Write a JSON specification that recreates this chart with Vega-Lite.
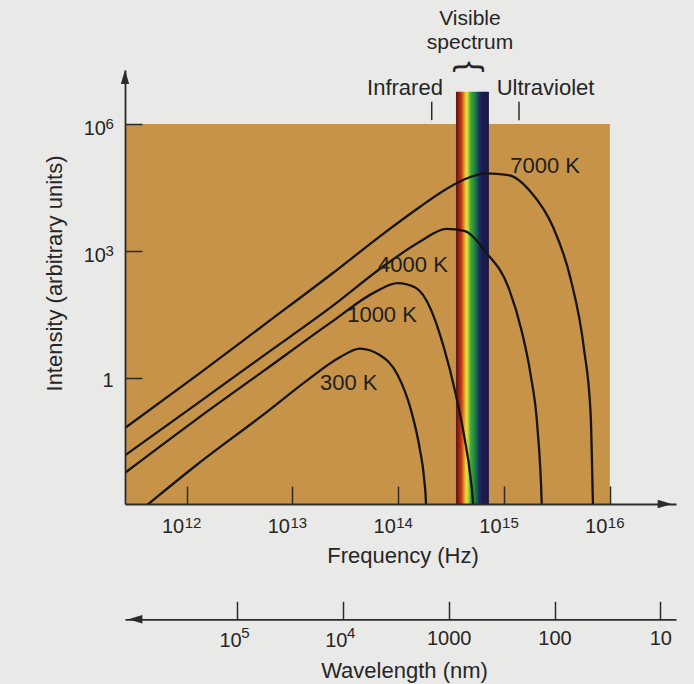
{
  "$schema": "https://vega.github.io/schema/vega-lite/v6.json",
  "width": 551,
  "height": 434,
  "autosize": {"type": "none"},
  "padding": {"left": 125, "top": 70, "right": 18, "bottom": 180},
  "background": "#e9e9e7",
  "config": {"view": {"stroke": null}, "text": {"font": "Liberation Sans", "color": "#262626"}, "axis": {"grid": false}},
  "datasets": {
    "curves": [
      {"T": "7000 K", "f": 2.61e11, "I": 0.0646},
      {"T": "7000 K", "f": 1.274e12, "I": 1.178},
      {"T": "7000 K", "f": 5.42e12, "I": 18.1},
      {"T": "7000 K", "f": 2.31e13, "I": 279},
      {"T": "7000 K", "f": 7.36e13, "I": 2673},
      {"T": "7000 K", "f": 1.596e14, "I": 11090},
      {"T": "7000 K", "f": 2.588e14, "I": 25590},
      {"T": "7000 K", "f": 4.19e14, "I": 49770},
      {"T": "7000 K", "f": 6.79e14, "I": 69340},
      {"T": "7000 K", "f": 1.102e15, "I": 62950},
      {"T": "7000 K", "f": 1.782e15, "I": 25590},
      {"T": "7000 K", "f": 2.89e15, "I": 3811},
      {"T": "7000 K", "f": 4.26e15, "I": 219},
      {"T": "7000 K", "f": 5.69e15, "I": 4.9},
      {"T": "7000 K", "f": 6.58e15, "I": 0.1387},
      {"T": "7000 K", "f": 6.92e15, "I": 0.00102},
      {"T": "7000 K", "f": 7.0e15, "I": 0.000316},
      {"T": "4000 K", "f": 2.61e11, "I": 0.01449},
      {"T": "4000 K", "f": 1.274e12, "I": 0.25},
      {"T": "4000 K", "f": 5.42e12, "I": 3.436},
      {"T": "4000 K", "f": 2.31e13, "I": 46.9},
      {"T": "4000 K", "f": 7.36e13, "I": 448.7},
      {"T": "4000 K", "f": 1.596e14, "I": 1660},
      {"T": "4000 K", "f": 2.851e14, "I": 3373},
      {"T": "4000 K", "f": 4.19e14, "I": 3013},
      {"T": "4000 K", "f": 6.79e14, "I": 916},
      {"T": "4000 K", "f": 1.102e15, "I": 136.5},
      {"T": "4000 K", "f": 1.469e15, "I": 12.65},
      {"T": "4000 K", "f": 1.782e15, "I": 1.178},
      {"T": "4000 K", "f": 2.065e15, "I": 0.0679},
      {"T": "4000 K", "f": 2.27e15, "I": 0.00102},
      {"T": "4000 K", "f": 2.3e15, "I": 0.000316},
      {"T": "1000 K", "f": 2.61e11, "I": 0.00557},
      {"T": "1000 K", "f": 1.274e12, "I": 0.109},
      {"T": "1000 K", "f": 5.42e12, "I": 1.489},
      {"T": "1000 K", "f": 2.31e13, "I": 20.42},
      {"T": "1000 K", "f": 6.08e13, "I": 107.9},
      {"T": "1000 K", "f": 9.84e13, "I": 173.4},
      {"T": "1000 K", "f": 1.449e14, "I": 136.5},
      {"T": "1000 K", "f": 2.032e14, "I": 41.5},
      {"T": "1000 K", "f": 2.716e14, "I": 4.9},
      {"T": "1000 K", "f": 3.459e14, "I": 0.453},
      {"T": "1000 K", "f": 4.19e14, "I": 0.0423},
      {"T": "1000 K", "f": 4.84e14, "I": 0.00391},
      {"T": "1000 K", "f": 5.08e14, "I": 0.00102},
      {"T": "1000 K", "f": 5.15e14, "I": 0.000316},
      {"T": "300 K", "f": 3.55e11, "I": 0.000676},
      {"T": "300 K", "f": 4.34e11, "I": 0.00102},
      {"T": "300 K", "f": 1.274e12, "I": 0.00902},
      {"T": "300 K", "f": 5.42e12, "I": 0.1387},
      {"T": "300 K", "f": 1.426e13, "I": 0.927},
      {"T": "300 K", "f": 2.805e13, "I": 3.041},
      {"T": "300 K", "f": 4.325e13, "I": 4.9},
      {"T": "300 K", "f": 6.68e13, "I": 3.436},
      {"T": "300 K", "f": 9.84e13, "I": 1.178},
      {"T": "300 K", "f": 1.315e14, "I": 0.1754},
      {"T": "300 K", "f": 1.596e14, "I": 0.02065},
      {"T": "300 K", "f": 1.758e14, "I": 0.00391},
      {"T": "300 K", "f": 1.828e14, "I": 0.00102},
      {"T": "300 K", "f": 1.85e14, "I": 0.000316}
    ]
  },
  "resolve": {"scale": {"x": "independent", "y": "shared"}, "axis": {"x": "independent", "y": "shared"}},
  "layer": [
    {
      "encoding": {
        "x": {
          "field": "f", "type": "quantitative",
          "scale": {"type": "log", "domain": [2.61e11, 4.22e16], "nice": false},
          "axis": {
            "orient": "bottom", "zindex": 1,
            "values": [1e12, 1e13, 1e14, 1e15, 1e16],
            "labels": false,
            "tickSize": -18, "tickWidth": 1.5, "tickColor": "#2b2b2b",
            "domainColor": "#2b2b2b", "domainWidth": 1.8,
            "title": "Frequency (Hz)", "titleFont": "Liberation Sans", "titleFontSize": 22,
            "titleFontWeight": "normal", "titleColor": "#262626",
            "titleX": 277.5, "titleY": 51.6, "titleBaseline": "middle", "titleAlign": "center"
          }
        },
        "y": {
          "field": "I", "type": "quantitative",
          "scale": {"type": "log", "domain": [0.001016, 19550000], "nice": false},
          "axis": {
            "orient": "left", "zindex": 1,
            "values": [1, 1000, 1000000],
            "labels": false,
            "tickSize": -17, "tickWidth": 1.5, "tickColor": "#2b2b2b",
            "domainColor": "#2b2b2b", "domainWidth": 1.8,
            "title": "Intensity (arbitrary units)", "titleFont": "Liberation Sans", "titleFontSize": 22,
            "titleFontWeight": "normal", "titleColor": "#262626",
            "titleX": -71, "titleY": 203, "titleBaseline": "middle", "titleAlign": "center", "titleAngle": -90
          }
        }
      },
      "layer": [
        {
          "data": {"values": [{"f": 2.61e11, "f2": 1e16, "I": 0.001016, "I2": 1028000}]},
          "mark": {"type": "rect", "color": "#c69349"},
          "encoding": {"x2": {"field": "f2"}, "y2": {"field": "I2"}}
        },
        {
          "data": {"values": [{"f": 3.51e14, "f2": 7.19e14, "I": 0.001016, "I2": 5980000}]},
          "mark": {
            "type": "rect",
            "fill": {
              "gradient": "linear", "x1": 0, "y1": 0, "x2": 1, "y2": 0,
              "stops": [
                {"offset": 0, "color": "#5a1610"},
                {"offset": 0.1, "color": "#9a2416"},
                {"offset": 0.18, "color": "#cc4418"},
                {"offset": 0.25, "color": "#e49a26"},
                {"offset": 0.31, "color": "#eedc3e"},
                {"offset": 0.37, "color": "#b4d63e"},
                {"offset": 0.44, "color": "#4aa83a"},
                {"offset": 0.56, "color": "#1f8a3c"},
                {"offset": 0.64, "color": "#1c5a52"},
                {"offset": 0.71, "color": "#1f2c62"},
                {"offset": 0.8, "color": "#1c1a4e"},
                {"offset": 1, "color": "#1a1842"}
              ]
            }
          },
          "encoding": {"x2": {"field": "f2"}, "y2": {"field": "I2"}}
        },
        {
          "data": {"values": [{"f": 2.07e14, "I": 3470000, "I2": 1265000}, {"f": 1.384e15, "I": 3470000, "I2": 1265000}]},
          "mark": {"type": "rule", "color": "#2b2b2b", "strokeWidth": 1.5},
          "encoding": {"y2": {"field": "I2"}}
        },
        {
          "data": {"name": "curves"},
          "mark": {"type": "line", "color": "#151515", "strokeWidth": 2.3, "interpolate": "monotone", "clip": true},
          "encoding": {"detail": {"field": "T", "type": "nominal"}}
        },
        {
          "data": {"values": [
            {"f": 2.44e15, "I": 106000, "label": "7000 K"},
            {"f": 1.377e14, "I": 469, "label": "4000 K"},
            {"f": 7.02e13, "I": 31.3, "label": "1000 K"},
            {"f": 3.40e13, "I": 0.766, "label": "300 K"}
          ]},
          "mark": {"type": "text", "fontSize": 22, "align": "center", "baseline": "middle", "font": "Liberation Sans", "color": "#1e1e1e"},
          "encoding": {"text": {"field": "label"}}
        },
        {
          "data": {"values": [{"f": 2.64e14, "I": 5000000, "label": "Infrared"}]},
          "mark": {"type": "text", "fontSize": 22, "align": "right", "baseline": "alphabetic", "font": "Liberation Sans"},
          "encoding": {"text": {"field": "label"}}
        },
        {
          "data": {"values": [{"f": 8.51e14, "I": 5000000, "label": "Ultraviolet"}]},
          "mark": {"type": "text", "fontSize": 22, "align": "left", "baseline": "alphabetic", "font": "Liberation Sans"},
          "encoding": {"text": {"field": "label"}}
        },
        {
          "data": {"values": [
            {"f": 4.76e14, "I": 222000000, "label": "Visible"},
            {"f": 4.76e14, "I": 61500000, "label": "spectrum"}
          ]},
          "mark": {"type": "text", "fontSize": 21, "align": "center", "baseline": "alphabetic", "font": "Liberation Sans"},
          "encoding": {"text": {"field": "label"}}
        },
        {
          "data": {"values": [{"f": 4.76e14, "I": 23100000, "label": "{"}]},
          "mark": {"type": "text", "fontSize": 34, "align": "center", "baseline": "middle", "angle": 90, "font": "Liberation Sans"},
          "encoding": {"text": {"field": "label"}}
        },
        {
          "data": {"values": [
            {"f": 1e12, "I": 0.001016, "t": "10"},
            {"f": 1e13, "I": 0.001016, "t": "10"},
            {"f": 1e14, "I": 0.001016, "t": "10"},
            {"f": 1e15, "I": 0.001016, "t": "10"},
            {"f": 1e16, "I": 0.001016, "t": "10"}
          ]},
          "mark": {"type": "text", "fontSize": 20, "align": "right", "baseline": "alphabetic", "dx": -2.5, "dy": 29.3, "font": "Liberation Sans"},
          "encoding": {"text": {"field": "t"}}
        },
        {
          "data": {"values": [
            {"f": 1e12, "I": 0.001016, "t": "12"},
            {"f": 1e13, "I": 0.001016, "t": "13"},
            {"f": 1e14, "I": 0.001016, "t": "14"},
            {"f": 1e15, "I": 0.001016, "t": "15"},
            {"f": 1e16, "I": 0.001016, "t": "16"}
          ]},
          "mark": {"type": "text", "fontSize": 15, "align": "left", "baseline": "alphabetic", "dx": -2, "dy": 23.5, "font": "Liberation Sans"},
          "encoding": {"text": {"field": "t"}}
        },
        {
          "data": {"values": [
            {"f": 2.61e11, "I": 1000000, "t": "10"},
            {"f": 2.61e11, "I": 1000, "t": "10"}
          ]},
          "mark": {"type": "text", "fontSize": 20, "align": "right", "baseline": "alphabetic", "dx": -19, "dy": 11, "font": "Liberation Sans"},
          "encoding": {"text": {"field": "t"}}
        },
        {
          "data": {"values": [{"f": 2.61e11, "I": 1, "t": "1"}]},
          "mark": {"type": "text", "fontSize": 20, "align": "right", "baseline": "alphabetic", "dx": -11.5, "dy": 9.5, "font": "Liberation Sans"},
          "encoding": {"text": {"field": "t"}}
        },
        {
          "data": {"values": [
            {"f": 2.61e11, "I": 1000000, "t": "6"},
            {"f": 2.61e11, "I": 1000, "t": "3"}
          ]},
          "mark": {"type": "text", "fontSize": 15, "align": "left", "baseline": "alphabetic", "dx": -19.5, "dy": 4.5, "font": "Liberation Sans"},
          "encoding": {"text": {"field": "t"}}
        },
        {
          "data": {"values": [{"f": 2.61e11, "I": 13360000}]},
          "mark": {"type": "point", "shape": "M-0.6,1L0,-1L0.6,1Z", "filled": true, "color": "#2b2b2b", "size": 196, "opacity": 1}
        },
        {
          "data": {"values": [{"f": 3.30e16, "I": 0.001016}]},
          "mark": {"type": "point", "shape": "M-1,-0.6L1,0L-1,0.6Z", "filled": true, "color": "#2b2b2b", "size": 196, "opacity": 1}
        }
      ]
    },
    {
      "encoding": {
        "x": {
          "field": "wl", "type": "quantitative",
          "scale": {"type": "log", "domain": [7.11, 1149000], "reverse": true, "nice": false},
          "axis": {
            "orient": "bottom", "offset": 115.3, "zindex": 1,
            "values": [100000, 10000, 1000, 100, 10],
            "labels": false,
            "tickSize": -18, "tickWidth": 1.5, "tickColor": "#2b2b2b",
            "domainColor": "#2b2b2b", "domainWidth": 1.8,
            "title": "Wavelength (nm)", "titleFont": "Liberation Sans", "titleFontSize": 22,
            "titleFontWeight": "normal", "titleColor": "#262626",
            "titleX": 279, "titleY": 50.7, "titleBaseline": "middle", "titleAlign": "center"
          }
        },
        "y": {
          "field": "I", "type": "quantitative",
          "scale": {"type": "log", "domain": [0.001016, 19550000], "nice": false},
          "axis": {
            "orient": "left", "zindex": 1,
            "values": [1, 1000, 1000000],
            "labels": false,
            "tickSize": -17, "tickWidth": 1.5, "tickColor": "#2b2b2b",
            "domainColor": "#2b2b2b", "domainWidth": 1.8,
            "title": "Intensity (arbitrary units)", "titleFont": "Liberation Sans", "titleFontSize": 22,
            "titleFontWeight": "normal", "titleColor": "#262626",
            "titleX": -71, "titleY": 203, "titleBaseline": "middle", "titleAlign": "center", "titleAngle": -90
          }
        }
      },
      "layer": [
        {
          "data": {"values": [{"wl": 917000, "I": 0.00000188}]},
          "mark": {"type": "point", "shape": "M1,-0.6L-1,0L1,0.6Z", "filled": true, "color": "#2b2b2b", "size": 196, "opacity": 1}
        },
        {
          "data": {"values": [
            {"wl": 100000, "I": 0.00000188, "t": "10"},
            {"wl": 10000, "I": 0.00000188, "t": "10"}
          ]},
          "mark": {"type": "text", "fontSize": 20, "align": "right", "baseline": "alphabetic", "dx": 4.5, "dy": 27.4, "font": "Liberation Sans"},
          "encoding": {"text": {"field": "t"}}
        },
        {
          "data": {"values": [
            {"wl": 100000, "I": 0.00000188, "t": "5"},
            {"wl": 10000, "I": 0.00000188, "t": "4"}
          ]},
          "mark": {"type": "text", "fontSize": 15, "align": "left", "baseline": "alphabetic", "dx": 4, "dy": 19, "font": "Liberation Sans"},
          "encoding": {"text": {"field": "t"}}
        },
        {
          "data": {"values": [
            {"wl": 1000, "I": 0.00000188, "t": "1000"},
            {"wl": 100, "I": 0.00000188, "t": "100"},
            {"wl": 10, "I": 0.00000188, "t": "10"}
          ]},
          "mark": {"type": "text", "fontSize": 20, "align": "center", "baseline": "alphabetic", "dx": 0.5, "dy": 26, "font": "Liberation Sans"},
          "encoding": {"text": {"field": "t"}}
        }
      ]
    }
  ]
}
